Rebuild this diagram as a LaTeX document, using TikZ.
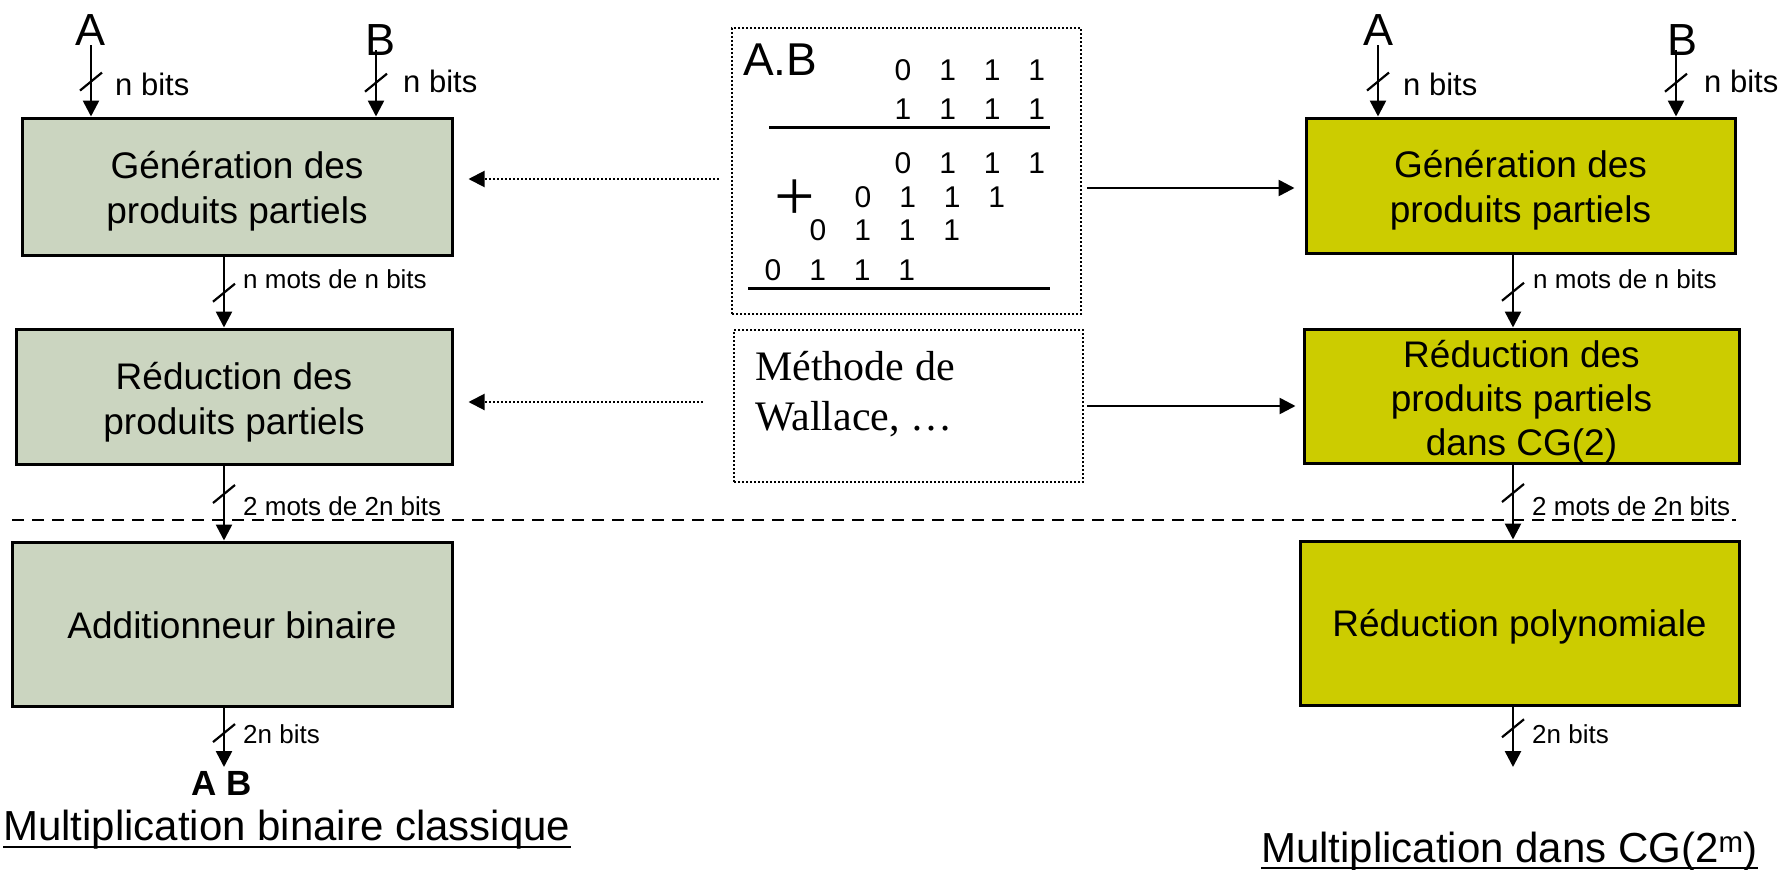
\documentclass[tikz,border=0pt]{standalone}
\usepackage{fontspec}
\setmainfont{Liberation Sans}
\newfontfamily\romanfont{Liberation Serif}
\usetikzlibrary{arrows.meta,decorations.markings,calc}

\definecolor{boxgrey}{RGB}{203,213,192}
\definecolor{boxyellow}{RGB}{204,204,0}

\tikzset{
  stage/.style={draw=black, line width=3pt, inner sep=0pt},
  classic/.style={stage, fill=boxgrey},
  galois/.style={stage, fill=boxyellow},
  stagetext/.style={inner sep=0pt, align=center, font=\fontsize{37pt}{45pt}\selectfont},
  note/.style={draw=black, line width=2.5pt, dash pattern=on 2pt off 2pt, inner sep=0pt},
  bus/.style={line width=2.6pt, -{Triangle[width=16pt,length=16pt]}},
  slashat/.style={postaction={decorate, decoration={markings,
      mark=at position #1 with {\draw[line width=2.2pt,-] (9pt,-11pt) -- (-9pt,11pt);}}}},
  hint/.style={line width=2pt, dash pattern=on 2pt off 2pt, -{Triangle[width=16pt,length=16pt]}},
  link/.style={line width=2.6pt, -{Triangle[width=16pt,length=16pt]}},
  lbl/.style={inner sep=0pt, anchor=base west, font=\fontsize{26pt}{30pt}\selectfont},
  bitlbl/.style={inner sep=0pt, anchor=base west, font=\fontsize{31pt}{36pt}\selectfont},
  opnd/.style={inner sep=0pt, anchor=base, font=\fontsize{45pt}{50pt}\selectfont},
  digit/.style={inner sep=0pt, anchor=base, font=\fontsize{30pt}{36pt}\selectfont},
  heading/.style={inner sep=0pt, anchor=base west, font=\fontsize{42pt}{50pt}\selectfont},
  rule/.style={line width=3pt},
}

\begin{document}
\begin{tikzpicture}[x=1pt,y=-1pt]
\useasboundingbox[fill=white] (0,0) rectangle (1781,870);

% vertical data paths of the two columns
\coordinate (colL) at (224,0);
\coordinate (colR) at (1513,0);
% heights of the horizontal links
\coordinate (lvlA) at (0,179);
\coordinate (lvlB) at (0,402);
\coordinate (lvlC) at (0,188);
\coordinate (lvlD) at (0,406);

% ---------------- classic binary multiplier ----------------
\node[classic, minimum width=430pt, minimum height=137pt] (genL) at (237,186.5) {};
\node[classic, minimum width=436pt, minimum height=135pt] (redL) at (234,396.5) {};
\node[classic, minimum width=440pt, minimum height=164pt] (addL) at (232,624) {};
\node[stagetext] (genLt) at ($(genL.center)+(0,5)$) {Génération des\\produits partiels};
\node[stagetext] (redLt) at ($(redL.center)+(0,6)$) {Réduction des\\produits partiels};
\node[stagetext] (addLt) at ($(addL.center)+(0,1)$) {Additionneur binaire};

\node[opnd] (aL) at (91,45) {A};
\node[opnd] (bL) at (381,55) {B};
\coordinate (bLfoot) at ($(bL.south)+(-5,-5)$);

\draw[bus, slashat=0.51] (aL.south) -- (aL.south |- genL.north);
\draw[bus, slashat=0.49] (bLfoot) -- (bLfoot |- genL.north);
\draw[bus, slashat=0.51] (colL |- genL.south) -- (colL |- redL.north);
\draw[bus, slashat=0.38] (colL |- redL.south) -- (colL |- addL.north);
\coordinate (outL) at (224,767);
\draw[bus, slashat=0.43] (colL |- addL.south) -- (outL);

\node[bitlbl] (nbAL) at (115,95) {n bits};
\node[bitlbl] (nbBL) at (403,92) {n bits};
\node[lbl] (mots1L) at (243,288) {n mots de n bits};
\node[lbl] (mots2L) at (243,515) {2 mots de 2n bits};
\node[lbl] (outbitsL) at (243,743) {2n bits};
\node[inner sep=0pt, anchor=base, font=\fontsize{35pt}{40pt}\selectfont\bfseries]
  (prodL) at (222,795) {A B};

\node[heading] (titleL) at (3,840) {Multiplication binaire classique};
\draw[line width=2.6pt] ($(titleL.base west)+(0,7)$) -- ($(titleL.base east)+(0,7)$);

% ---------------- multiplier over GF(2^m) ----------------
\node[galois, minimum width=429pt, minimum height=135pt] (genR) at (1520.5,185.5) {};
\node[galois, minimum width=435pt, minimum height=134pt] (redR) at (1521.5,396) {};
\node[galois, minimum width=439pt, minimum height=164pt] (polR) at (1519.5,623) {};
\node[stagetext] (genRt) at ($(genR.center)+(0,5)$) {Génération des\\produits partiels};
\node[stagetext, font=\fontsize{37pt}{44pt}\selectfont] (redRt) at ($(redR.center)+(0,6)$)
  {Réduction des\\produits partiels\\dans CG(2)};
\node[stagetext] (polRt) at ($(polR.center)+(0,4)$) {Réduction polynomiale};

\node[opnd] (aR) at (1378,45) {A};
\node[opnd] (bR) at (1682,55) {B};
\coordinate (bRfoot) at ($(bR.south)+(-6,-5)$);

\draw[bus, slashat=0.51] (aR.south) -- (aR.south |- genR.north);
\draw[bus, slashat=0.49] (bRfoot) -- (bRfoot |- genR.north);
\draw[bus, slashat=0.51] (colR |- genR.south) -- (colR |- redR.north);
\draw[bus, slashat=0.38] (colR |- redR.south) -- (colR |- polR.north);
\coordinate (outR) at (1513,767);
\draw[bus, slashat=0.36] (colR |- polR.south) -- (outR);

\node[bitlbl] (nbAR) at (1403,95) {n bits};
\node[bitlbl] (nbBR) at (1704,92) {n bits};
\node[lbl] (mots1R) at (1533,288) {n mots de n bits};
\node[lbl] (mots2R) at (1532,515) {2 mots de 2n bits};
\node[lbl] (outbitsR) at (1532,743) {2n bits};

\node[heading] (titleR) at (1261,862) {Multiplication dans CG(2\textsuperscript{m})};
\draw[line width=2.6pt] ($(titleR.base west)+(0,6)$) -- ($(titleR.base east)+(0,6)$);

% boundary between partial-product stages and final stage
\draw[line width=2.5pt, dash pattern=on 12pt off 8pt] (12,520) -- (1736,520);

% ---------------- worked example and method ----------------
\node[note, minimum width=349pt, minimum height=286pt] (prodbox) at (906.5,171) {};
\node[note, minimum width=349pt, minimum height=152pt] (methbox) at (908.5,406) {};

\node[inner sep=0pt, anchor=base west, font=\fontsize{46pt}{50pt}\selectfont]
  (ABlbl) at (743,75) {A.B};

\foreach \i in {1,...,4}
  \node[digit] (b\i) at ({903+44.6*(\i-1)},119) {1};
\foreach \r/\xs/\yb in {a/903/80, c/903/173, d/863/207, e/818/240, f/773/280}
  \foreach \d [count=\i] in {0,1,1,1}
    \node[digit] (\r\i) at ({\xs+44.6*(\i-1)},\yb) {\d};

\draw[rule] (769,127) -- (1050,127);
\draw[rule] (748,288) -- (1050,288);
\node[inner sep=0pt, anchor=base, font=\romanfont\fontsize{72pt}{80pt}\selectfont]
  (plus) at (795,220) {+};

\node[inner sep=0pt, anchor=north west, align=left,
      font=\romanfont\fontsize{42pt}{50pt}\selectfont] (methtxt) at (755,351)
  {Méthode de\\Wallace, …};

% links from the middle blocks to the two architectures
\draw[hint] ($(prodbox.west |- lvlA)+(-12,0)$) -- ($(genL.east |- lvlA)+(15,0)$);
\draw[hint] ($(methbox.west |- lvlB)+(-30,0)$) -- ($(redL.east |- lvlB)+(15,0)$);
\draw[link] ($(prodbox.east |- lvlC)+(5,0)$) -- ($(genR.west |- lvlC)+(-10,0)$);
\draw[link] ($(methbox.east |- lvlD)+(3,0)$) -- ($(redR.west |- lvlD)+(-7,0)$);
\end{tikzpicture}
\end{document}
